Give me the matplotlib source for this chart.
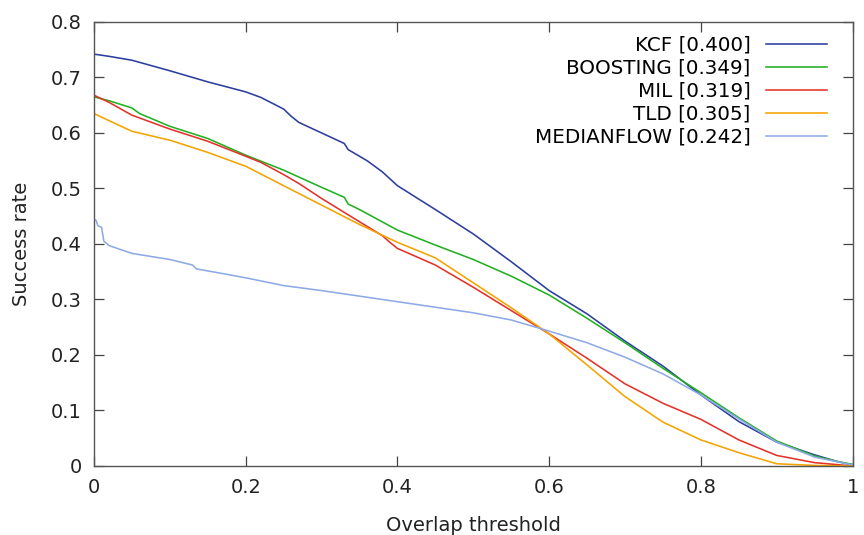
import numpy as np
import matplotlib
matplotlib.use("Agg")
import matplotlib.pyplot as plt

# success plot data
kcf_x = [0, 0.02, 0.05, 0.1, 0.15, 0.2, 0.22, 0.25, 0.26, 0.27, 0.3, 0.33, 0.335, 0.36, 0.38,
         0.4, 0.45, 0.5, 0.55, 0.6, 0.65, 0.7, 0.75, 0.8, 0.85, 0.9, 0.95, 0.98, 1.0]
kcf_y = [0.742, 0.738, 0.731, 0.712, 0.692, 0.674, 0.664, 0.643, 0.630, 0.619, 0.600, 0.581, 0.570,
         0.550, 0.530, 0.505, 0.462, 0.418, 0.368, 0.316, 0.274, 0.225, 0.180, 0.128, 0.080, 0.043,
         0.020, 0.008, 0.002]

boost_x = [0, 0.02, 0.05, 0.06, 0.1, 0.15, 0.2, 0.25, 0.3, 0.33, 0.335, 0.35, 0.4, 0.45, 0.5,
           0.55, 0.6, 0.65, 0.7, 0.75, 0.8, 0.85, 0.9, 0.95, 0.98, 1.0]
boost_y = [0.665, 0.658, 0.645, 0.635, 0.612, 0.590, 0.560, 0.533, 0.502, 0.484, 0.472, 0.462,
           0.425, 0.398, 0.372, 0.342, 0.308, 0.266, 0.222, 0.176, 0.132, 0.087, 0.045, 0.018,
           0.008, 0.003]

mil_x = [0, 0.02, 0.05, 0.1, 0.15, 0.2, 0.22, 0.25, 0.27, 0.3, 0.35, 0.38, 0.39, 0.4, 0.45, 0.5,
         0.55, 0.6, 0.65, 0.7, 0.75, 0.8, 0.85, 0.9, 0.95, 1.0]
mil_y = [0.668, 0.655, 0.632, 0.607, 0.585, 0.558, 0.547, 0.525, 0.509, 0.482, 0.440, 0.415,
         0.403, 0.392, 0.362, 0.322, 0.280, 0.238, 0.194, 0.148, 0.113, 0.084, 0.047, 0.019,
         0.006, 0.0]

tld_x = [0, 0.02, 0.05, 0.1, 0.15, 0.2, 0.25, 0.3, 0.35, 0.4, 0.45, 0.5, 0.55, 0.6, 0.65, 0.7,
         0.75, 0.8, 0.85, 0.9, 0.95, 1.0]
tld_y = [0.635, 0.622, 0.603, 0.587, 0.565, 0.540, 0.505, 0.470, 0.435, 0.403, 0.375, 0.330,
         0.285, 0.238, 0.182, 0.125, 0.079, 0.047, 0.024, 0.004, 0.001, 0.0]

mf_x = [0, 0.003, 0.005, 0.01, 0.013, 0.02, 0.05, 0.1, 0.13, 0.135, 0.16, 0.2, 0.25, 0.3, 0.35,
        0.4, 0.45, 0.5, 0.55, 0.6, 0.65, 0.7, 0.75, 0.8, 0.85, 0.9, 0.95, 1.0]
mf_y = [0.445, 0.442, 0.433, 0.430, 0.405, 0.397, 0.383, 0.372, 0.362, 0.355, 0.349, 0.339,
        0.325, 0.316, 0.306, 0.296, 0.286, 0.276, 0.263, 0.243, 0.222, 0.196, 0.166, 0.128,
        0.085, 0.043, 0.016, 0.002]

labels = ["KCF [0.400]", "BOOSTING [0.349]", "MIL [0.319]", "TLD [0.305]", "MEDIANFLOW [0.242]"]
colors = ["#2c3e9e", "#22b022", "#e43228", "#f4a300", "#8eaae6"]

xticks = [0, 0.2, 0.4, 0.6, 0.8, 1]
xticklabels = ["0", "0.2", "0.4", "0.6", "0.8", "1"]
yticks = [0, 0.1, 0.2, 0.3, 0.4, 0.5, 0.6, 0.7, 0.8]
yticklabels = ["0", "0.1", "0.2", "0.3", "0.4", "0.5", "0.6", "0.7", "0.8"]

fig = plt.figure(figsize=(8.64, 5.35), dpi=100)
ax = fig.add_axes([0.1088, 0.129, 0.878, 0.830])

series = [(kcf_x, kcf_y), (boost_x, boost_y), (mil_x, mil_y), (tld_x, tld_y), (mf_x, mf_y)]
for (xs, ys), lab, c in zip(series, labels, colors):
    ax.plot(xs, ys, color=c, linewidth=1.15, label=lab)

ax.set_xlim(0, 1)
ax.set_ylim(0, 0.8)
ax.set_xticks(xticks)
ax.set_xticklabels(xticklabels)
ax.set_yticks(yticks)
ax.set_yticklabels(yticklabels)
ax.tick_params(direction="in", length=7, width=0.9, color="#444444", labelsize=14,
               top=True, right=True, labelcolor="#222222", pad=9)
for s in ax.spines.values():
    s.set_color("#555555")
    s.set_linewidth(1.0)

ax.set_xlabel("Overlap threshold", fontsize=14, color="#222222", labelpad=13)
ax.set_ylabel("Success rate", fontsize=14, color="#222222", labelpad=14)

ax.legend(loc="upper right", frameon=False, markerfirst=False, fontsize=14.3,
          handlelength=3.1, handletextpad=0.75, labelspacing=0.2,
          bbox_to_anchor=(0.985, 1.0), borderaxespad=0.3)

plt.savefig("out.png", dpi=100)
